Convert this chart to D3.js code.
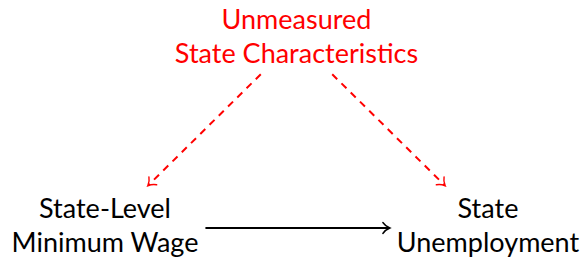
<!DOCTYPE html>
<html>
<head>
<meta charset="utf-8">
<script src="https://cdn.jsdelivr.net/npm/d3@7"></script>
<style>
  html, body { margin: 0; padding: 0; background: #fff; }
  svg { display: block; }
  text { font-family: Lato, "Open Sans", sans-serif; font-size: 27px; }
</style>
</head>
<body>
<svg id="chart" width="581" height="259"></svg>
<script>
(function() {

  // ---------- data
  var nodeIds = ['conf', 'wage', 'unemp'];
  var nodeLines = [
    ['Unmeasured', 'State Characteristics'],
    ['State-Level', 'Minimum Wage'],
    ['State', 'Unemployment']
  ];
  var nodeCols = [1, 0, 2];
  var nodeRows = [0, 1, 1];
  var nodeColors = ['#ff0000', '#000000', '#000000'];

  var edgeFrom = ['conf', 'conf', 'wage'];
  var edgeTo = ['wage', 'unemp', 'unemp'];
  var edgeDashed = [true, true, false];

  // ---------- layout
  var svg = d3.select('#chart');
  var x = d3.scaleLinear().domain([0, 2]).range([105, 488]);
  var y = d3.scaleLinear().domain([0, 1]).range([39, 228]);
  var lineGap = 34.5;
  var padX = 7, padY = 5;

  var nodes = nodeIds.map(function(id, i) {
    return { id: id, lines: nodeLines[i], cx: x(nodeCols[i]), cy: y(nodeRows[i]), color: nodeColors[i] };
  });
  var byId = {};
  nodes.forEach(function(n) { byId[n.id] = n; });

  // ---------- nodes
  nodes.forEach(function(n) {
    var t = svg.append('text')
      .attr('text-anchor', 'middle')
      .attr('fill', n.color);
    var firstBase = n.cy - (n.lines.length - 1) * lineGap / 2 + 7;
    n.lines.forEach(function(line, k) {
      t.append('tspan')
        .attr('x', n.cx)
        .attr('y', firstBase + k * lineGap)
        .text(line);
    });
    var b = t.node().getBBox();
    n.box = { x0: b.x - padX, x1: b.x + b.width + padX, y0: b.y - padY, y1: b.y + b.height + padY };
  });

  // clip the centre-to-centre line at the node box
  function clip(from, to) {
    var dx = to.cx - from.cx, dy = to.cy - from.cy;
    var b = from.box, ts = [];
    if (dx) { ts.push(((dx > 0 ? b.x1 : b.x0) - from.cx) / dx); }
    if (dy) { ts.push(((dy > 0 ? b.y1 : b.y0) - from.cy) / dy); }
    var t = d3.min(ts.filter(function(v) { return v > 0; }));
    return [from.cx + dx * t, from.cy + dy * t];
  }

  // ---------- edges
  edgeFrom.forEach(function(f, i) {
    var a = byId[f], b = byId[edgeTo[i]];
    var p0 = clip(a, b), p1 = clip(b, a);
    var color = edgeDashed[i] ? '#ff0000' : '#000000';
    var rad = Math.atan2(p1[1] - p0[1], p1[0] - p0[0]);

    svg.append('line')
      .attr('x1', p0[0]).attr('y1', p0[1])
      .attr('x2', p1[0] - Math.cos(rad)).attr('y2', p1[1] - Math.sin(rad))
      .attr('stroke', color)
      .attr('stroke-width', edgeDashed[i] ? 2 : 1.8)
      .attr('stroke-dasharray', edgeDashed[i] ? '7,6' : null);

    // tikz "to" style head
    svg.append('path')
      .attr('d', 'M-7,-5.5 C-5,-2.5 -1.5,-0.6 0,0 C-1.5,0.6 -5,2.5 -7,5.5')
      .attr('transform', 'translate(' + p1[0] + ',' + p1[1] + ') rotate(' + (rad * 180 / Math.PI) + ')')
      .attr('fill', 'none')
      .attr('stroke', color)
      .attr('stroke-width', 1.4)
      .attr('stroke-linecap', 'round');
  });

})();
</script>
</body>
</html>
